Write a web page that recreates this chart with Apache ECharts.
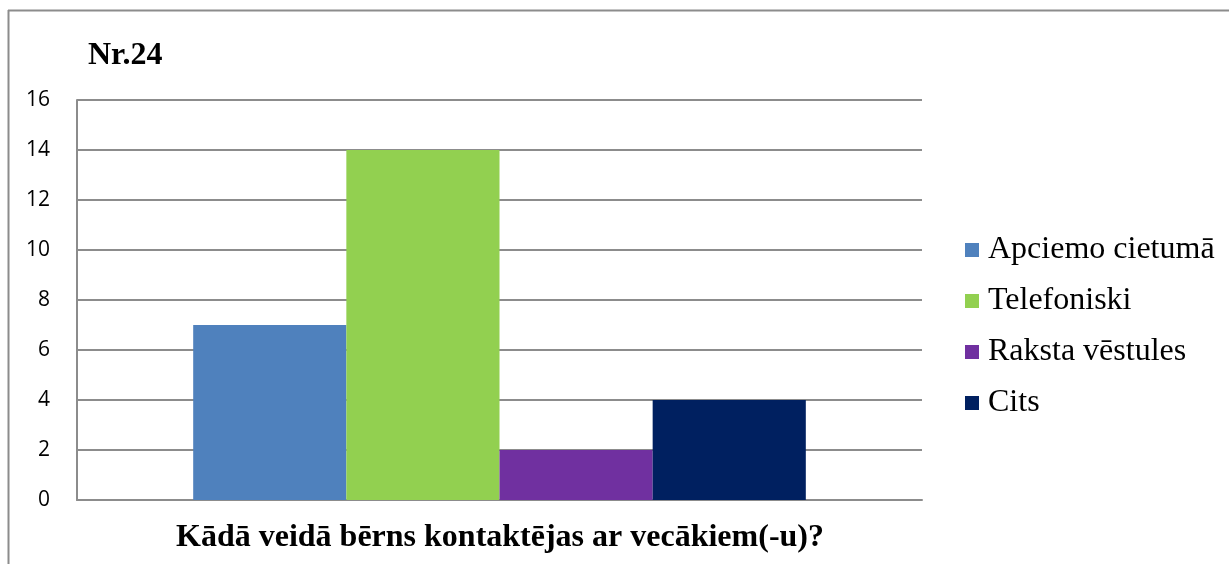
<!DOCTYPE html>
<html><head><meta charset="utf-8">
<script src="https://cdn.jsdelivr.net/npm/echarts@6/dist/echarts.min.js"></script>
<style>html,body{margin:0;padding:0;background:#fff}#c{width:1229px;height:564px}</style>
</head><body><div id="c"></div>
<script>
const categories = [''];
const seriesNames = ['Apciemo cietumā', 'Telefoniski', 'Raksta vēstules', 'Cits'];
const seriesValues = [[7], [14], [2], [4]];
const seriesColors = ['#4F81BD', '#92D050', '#7030A0', '#002060'];
const yTicks = { min: 0, max: 16, interval: 2 };
const chartTitle = 'Nr.24';
const axisTitle = 'Kādā veidā bērns kontaktējas ar vecākiem(-u)?';

const chart = echarts.init(document.getElementById('c'), null, { renderer: 'canvas' });
const gridColor = '#8c8c8c';
chart.setOption({
  animation: false,
  backgroundColor: '#fff',
  title: [
    { text: chartTitle, left: 83, top: 33, textStyle: { fontFamily: 'Liberation Serif', fontWeight: 'bold', fontSize: 32, lineHeight: 36, color: '#000' } },
    { text: axisTitle, left: 495, textAlign: 'center', top: 515, textStyle: { fontFamily: 'Liberation Serif', fontWeight: 'bold', fontSize: 32, lineHeight: 36, color: '#000' } }
  ],
  legend: {
    orient: 'vertical', left: 960, top: 229,
    itemWidth: 14, itemHeight: 14, itemGap: 19,
    icon: 'rect',
    textStyle: { fontFamily: 'Liberation Serif', fontSize: 32, lineHeight: 32, color: '#000', padding: [0, 0, 0, 4] },
    data: seriesNames
  },
  grid: { left: 77, right: 307, top: 100, bottom: 64, containLabel: false },
  xAxis: {
    type: 'category', data: categories,
    axisLine: { show: true, lineStyle: { color: gridColor, width: 2 } },
    axisTick: { show: false }, axisLabel: { show: false }
  },
  yAxis: {
    type: 'value', min: yTicks.min, max: yTicks.max, interval: yTicks.interval,
    axisLine: { show: true, lineStyle: { color: gridColor, width: 2 } },
    axisTick: { show: false },
    splitLine: { show: true, lineStyle: { color: gridColor, width: 2 } },
    axisLabel: { fontFamily: 'Open Sans', fontSize: 21, color: '#000', margin: 27 }
  },
  series: seriesNames.map((n, i) => ({
    name: n, type: 'bar', data: seriesValues[i],
    itemStyle: { color: seriesColors[i] },
    barGap: '0%', barCategoryGap: '27.5%'
  })),
  graphic: [
    { type: 'line', shape: { x1: 8, y1: 10.5, x2: 1229, y2: 10.5 }, style: { stroke: '#8c8c8c', lineWidth: 2 } },
    { type: 'line', shape: { x1: 8.5, y1: 10, x2: 8.5, y2: 564 }, style: { stroke: '#8c8c8c', lineWidth: 2 } }
  ]
});
</script></body></html>
